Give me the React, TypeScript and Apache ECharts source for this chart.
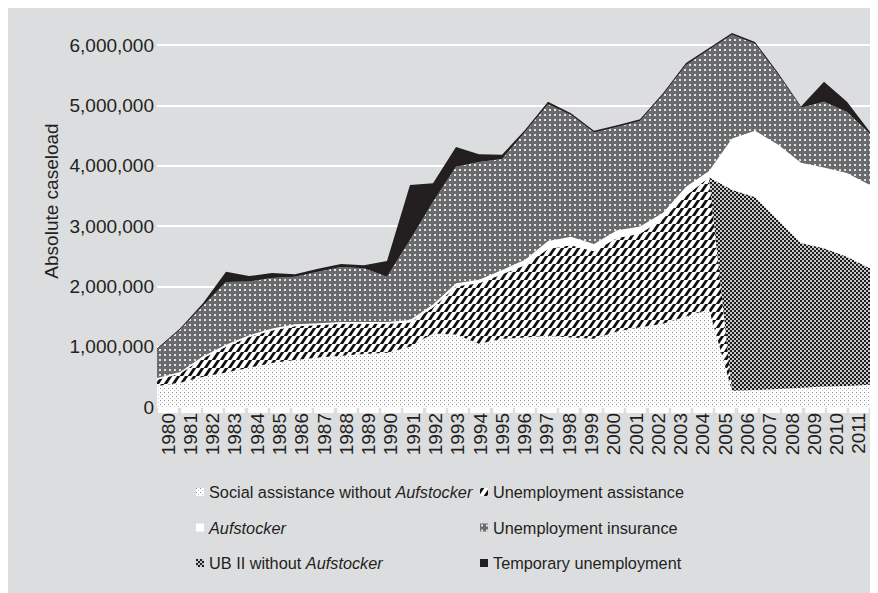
import React, { useEffect, useRef } from 'react';
import * as echarts from 'echarts';

const years = ['1980', '1981', '1982', '1983', '1984', '1985', '1986', '1987', '1988', '1989', '1990', '1991', '1992', '1993', '1994', '1995', '1996', '1997', '1998', '1999', '2000', '2001', '2002', '2003', '2004', '2005', '2006', '2007', '2008', '2009', '2010', '2011'];

const socialAssistance = [350000, 400000, 500000, 570000, 650000, 730000, 780000, 820000, 850000, 880000, 900000, 1000000, 1220000, 1200000, 1050000, 1130000, 1150000, 1180000, 1150000, 1130000, 1250000, 1320000, 1380000, 1500000, 1620000, 270000, 280000, 300000, 320000, 340000, 350000, 370000];

const unemploymentAssistance = [100000, 150000, 310000, 430000, 510000, 540000, 560000, 540000, 530000, 500000, 480000, 400000, 430000, 800000, 1000000, 1070000, 1200000, 1440000, 1530000, 1450000, 1550000, 1550000, 1740000, 2000000, 2190000, 0, 0, 0, 0, 0, 0, 0];

const ubIIWithoutAufstocker = [0, 0, 0, 0, 0, 0, 0, 0, 0, 0, 0, 0, 0, 0, 0, 0, 0, 0, 0, 0, 0, 0, 0, 0, 0, 3330000, 3200000, 2800000, 2400000, 2290000, 2140000, 1930000];

const aufstocker = [30000, 30000, 30000, 30000, 30000, 30000, 30000, 30000, 30000, 30000, 30000, 40000, 50000, 50000, 60000, 70000, 90000, 130000, 140000, 120000, 130000, 120000, 100000, 150000, 100000, 850000, 1100000, 1250000, 1330000, 1340000, 1390000, 1380000];

const unemploymentInsurance = [470000, 700000, 840000, 1040000, 890000, 840000, 790000, 850000, 910000, 890000, 750000, 1330000, 1700000, 1930000, 1950000, 1840000, 2120000, 2270000, 2020000, 1850000, 1710000, 1750000, 1950000, 2020000, 2010000, 1720000, 1440000, 1160000, 910000, 1090000, 1010000, 850000];

const temporaryUnemployment = [20000, 20000, 40000, 170000, 90000, 80000, 40000, 50000, 50000, 50000, 260000, 910000, 310000, 330000, 130000, 70000, 30000, 40000, 30000, 30000, 30000, 30000, 30000, 30000, 30000, 30000, 30000, 30000, 20000, 330000, 170000, 30000];

const seriesNames = [
  'Social assistance without Aufstocker',
  'Unemployment assistance',
  'UB II without Aufstocker',
  'Aufstocker',
  'Unemployment insurance',
  'Temporary unemployment',
];

const legendLeft = ['Social assistance without Aufstocker', 'Aufstocker', 'UB II without Aufstocker'];
const legendRight = ['Unemployment assistance', 'Unemployment insurance', 'Temporary unemployment'];

const yAxisTitle = 'Absolute caseload';

const BG = '#dcdddf';
const INK = '#231f20';
const FONT = "'Liberation Sans', Arial, sans-serif";

function tile(size: number, draw: (ctx: CanvasRenderingContext2D) => void): any {
  const c = document.createElement('canvas');
  c.width = size;
  c.height = size;
  const ctx = c.getContext('2d') as CanvasRenderingContext2D;
  draw(ctx);
  return { image: c.toDataURL(), repeat: 'repeat', imageWidth: size, imageHeight: size };
}

function makePatterns() {
  const social = tile(4, (ctx) => {
    ctx.fillStyle = '#ffffff';
    ctx.fillRect(0, 0, 4, 4);
    ctx.fillStyle = '#8e8e8e';
    ctx.fillRect(0, 0, 1, 1);
    ctx.fillStyle = '#c4c4c4';
    ctx.fillRect(2, 2, 1, 1);
  });
  const stripes = tile(8, (ctx) => {
    ctx.fillStyle = '#ffffff';
    ctx.fillRect(0, 0, 8, 8);
    ctx.strokeStyle = '#111111';
    ctx.lineWidth = 2.8;
    for (let k = -8; k <= 16; k += 8) {
      ctx.beginPath();
      ctx.moveTo(k - 8, 8 + 8);
      ctx.lineTo(k + 8, -8 + 8 - 8);
      ctx.stroke();
    }
  });
  const checker = tile(4, (ctx) => {
    ctx.fillStyle = '#1c1c1c';
    ctx.fillRect(0, 0, 4, 4);
    ctx.fillStyle = '#c8c8c8';
    ctx.fillRect(2, 0, 2, 2);
    ctx.fillRect(0, 2, 2, 2);
  });
  const insurance = tile(5, (ctx) => {
    ctx.fillStyle = '#6a6b6d';
    ctx.fillRect(0, 0, 5, 5);
    ctx.fillStyle = '#e4e4e4';
    ctx.fillRect(1, 1, 2, 2);
  });
  return { social, stripes, checker, insurance };
}

export default function App() {
  const ref = useRef<HTMLDivElement>(null);

  useEffect(() => {
    if (!ref.current) return;
    const chart = echarts.init(ref.current, null, { renderer: 'svg' });
    const p = makePatterns();
    const fills: any[] = [p.social, p.stripes, p.checker, '#ffffff', p.insurance, '#231f20'];
    const values = [socialAssistance, unemploymentAssistance, ubIIWithoutAufstocker, aufstocker, unemploymentInsurance, temporaryUnemployment];

    const legendCommon: any = {
      orient: 'vertical',
      icon: 'rect',
      itemWidth: 8,
      itemHeight: 8,
      itemGap: 15.5,
      padding: 0,
      selectedMode: false,
      formatter: (name: string) => name.replace('Aufstocker', '{i|Aufstocker}'),
      textStyle: {
        fontFamily: FONT,
        fontSize: 16.3,
        lineHeight: 20,
        color: INK,
        rich: {
          i: { fontFamily: FONT, fontSize: 16.3, lineHeight: 20, fontStyle: 'italic', color: INK },
        },
      },
    };

    const option: any = {
      animation: false,
      backgroundColor: BG,
      textStyle: { fontFamily: FONT },
      grid: { left: 149, right: 8, top: 37, bottom: 186, containLabel: false },
      xAxis: [
        { type: 'category', data: years, boundaryGap: false, show: false },
        {
          type: 'category',
          data: years,
          boundaryGap: true,
          position: 'bottom',
          axisLine: { show: false },
          axisTick: { show: true, alignWithLabel: true, interval: 0, length: 6, lineStyle: { color: '#ffffff', width: 19.5 } },
          axisLabel: { interval: 0, rotate: 90, fontSize: 19, fontFamily: FONT, color: INK, margin: 6 },
          splitLine: { show: false },
        },
      ],
      yAxis: {
        type: 'value',
        min: 0,
        max: 6000000,
        interval: 1000000,
        axisLine: { show: false },
        axisTick: { show: false },
        splitLine: { lineStyle: { color: '#ffffff', width: 2 } },
        axisLabel: {
          fontSize: 19,
          fontFamily: FONT,
          color: INK,
          margin: 3,
          formatter: (v: number) => v.toLocaleString('en-US'),
        },
      },
      legend: [
        { ...legendCommon, left: 188, top: 474, data: legendLeft },
        { ...legendCommon, left: 472, top: 474, data: legendRight },
      ],
      graphic: [
        {
          type: 'text',
          x: 43,
          y: 193,
          rotation: Math.PI / 2,
          style: { text: yAxisTitle, fontSize: 19, fontFamily: FONT, fill: INK, align: 'center', verticalAlign: 'middle' },
        },
      ],
      series: seriesNames.map((name, i) => ({
        name,
        type: 'line',
        stack: 'total',
        data: values[i],
        xAxisIndex: 0,
        symbol: 'none',
        showSymbol: false,
        clip: false,
        lineStyle: { width: 0 },
        itemStyle: { color: fills[i] },
        areaStyle: { color: fills[i], opacity: 1 },
        emphasis: { disabled: true },
      })),
    };
    chart.setOption(option);
    return () => chart.dispose();
  }, []);

  return <div ref={ref} style={{ width: 870, height: 585, background: BG }} />;
}
